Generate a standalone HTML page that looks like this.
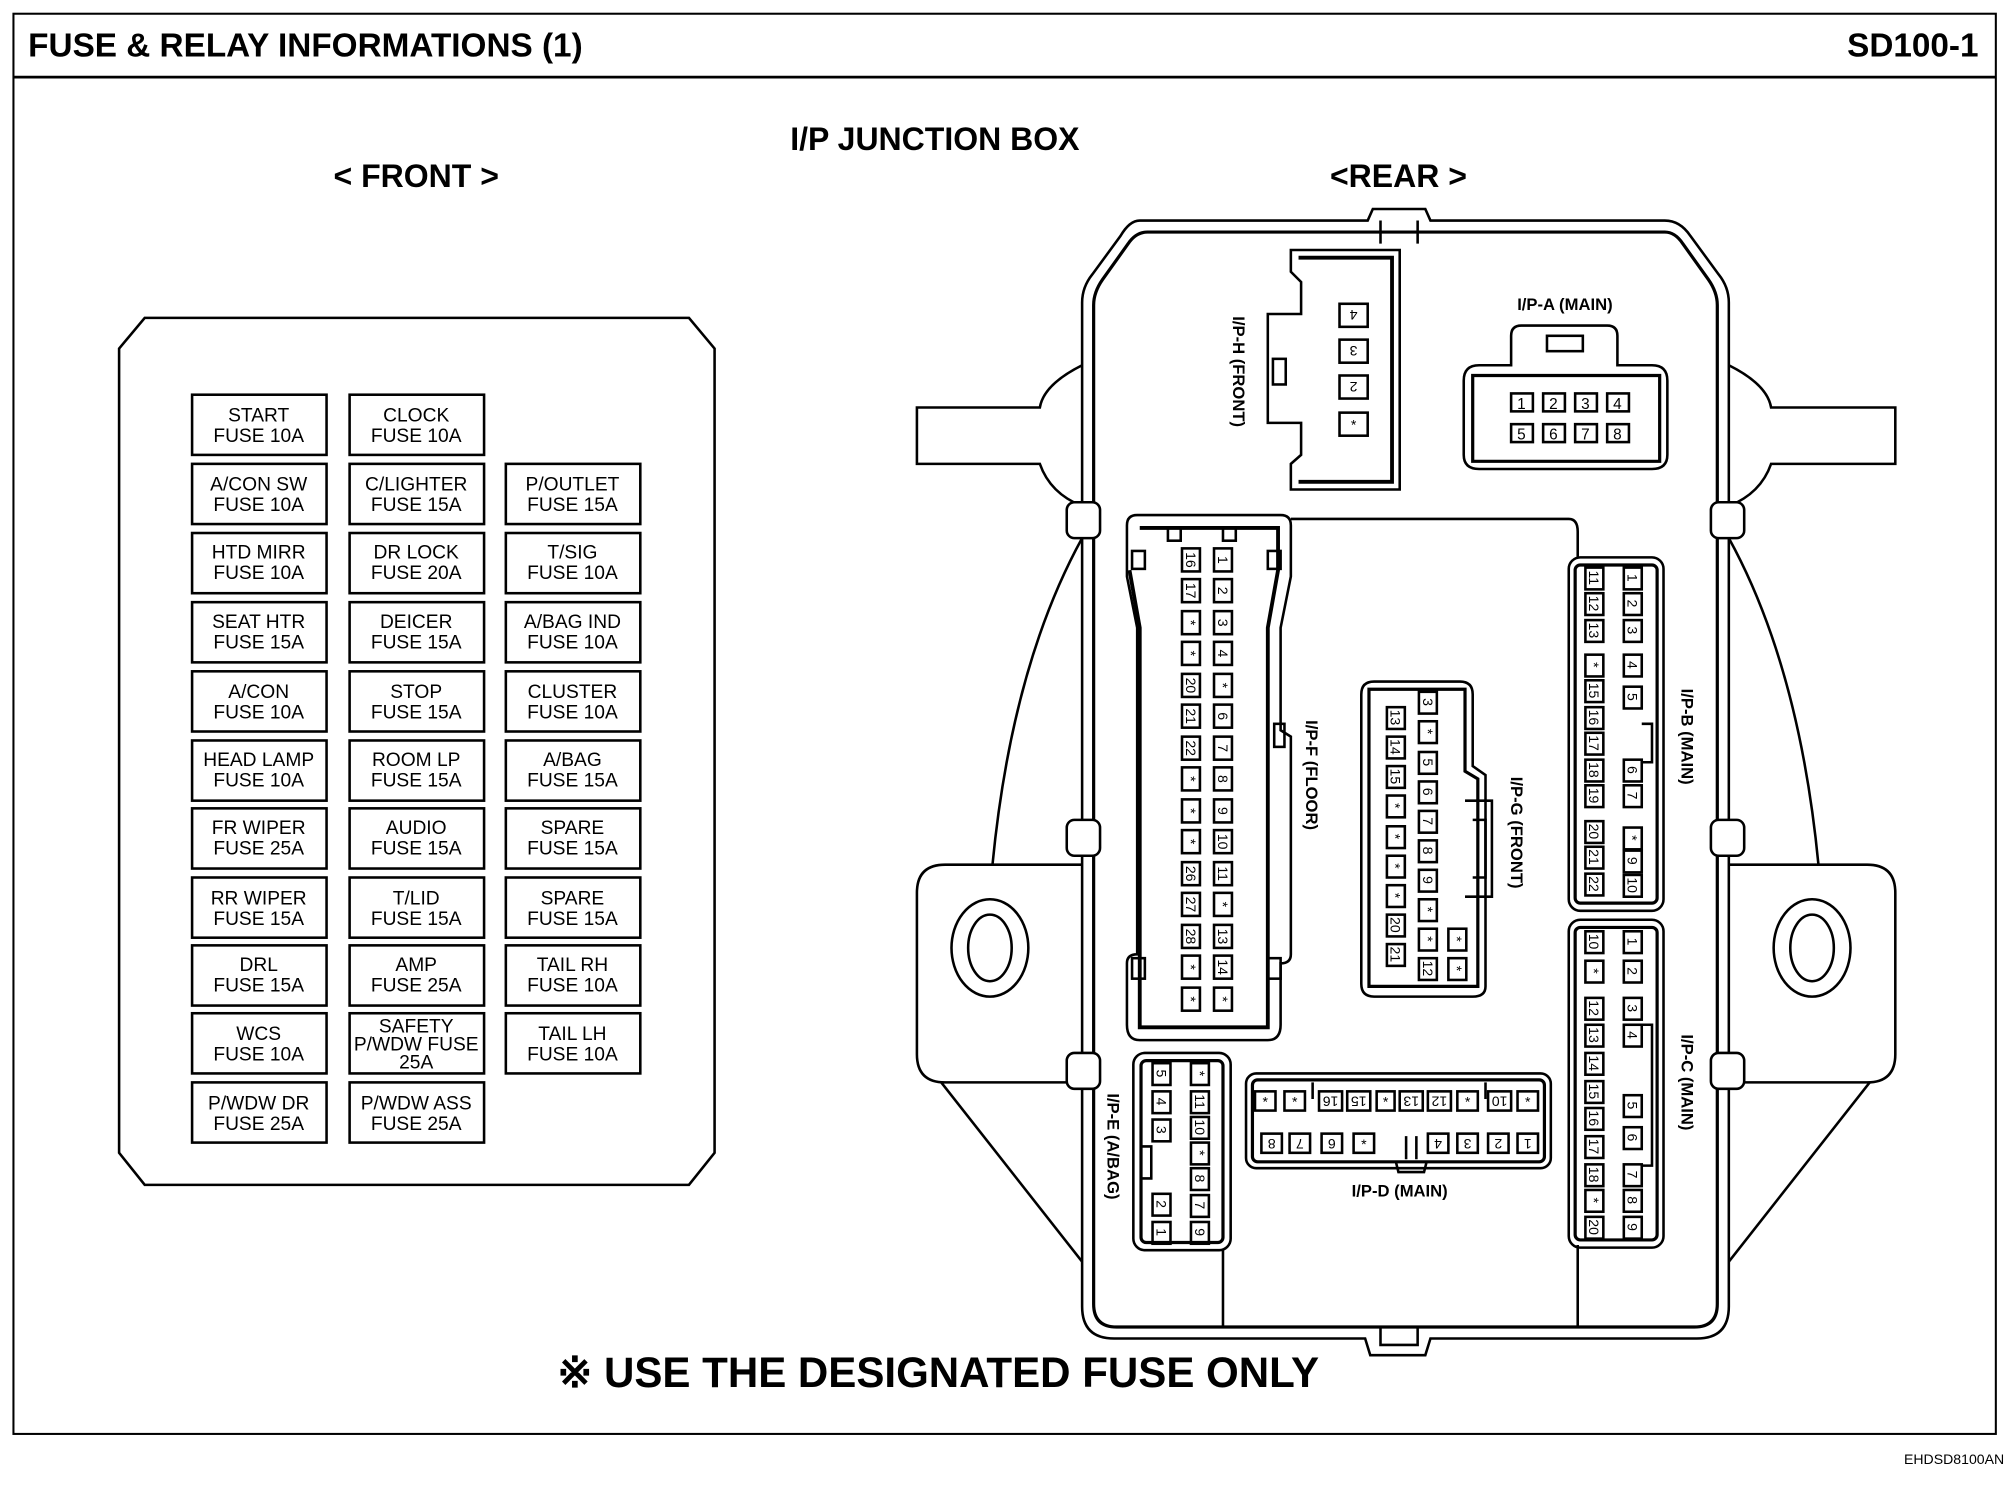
<!DOCTYPE html>
<html><head><meta charset="utf-8"><style>
html,body{margin:0;padding:0;background:#fff}
svg{display:block}
text{font-family:"Liberation Sans",sans-serif;fill:#000}
</style></head><body>
<svg width="2008" height="1504" viewBox="0 0 1568 1174" xmlns="http://www.w3.org/2000/svg">
<rect x="0" y="0" width="1568" height="1174" fill="#fff"/>
<rect x="10.5" y="10.5" width="1548" height="1109" fill="none" stroke="#000" stroke-width="1.6"/>
<line x1="10" y1="60" x2="1558" y2="60" stroke="#000" stroke-width="2.2"/>
<text x="22" y="44" font-size="26" font-weight="bold" textLength="433" lengthAdjust="spacingAndGlyphs">FUSE &amp; RELAY INFORMATIONS (1)</text>
<text x="1545" y="44" font-size="26" font-weight="bold" text-anchor="end">SD100-1</text>
<text x="730" y="117" font-size="25" font-weight="bold" text-anchor="middle">I/P JUNCTION BOX</text>
<text x="325" y="146" font-size="25" font-weight="bold" text-anchor="middle">&lt; FRONT &gt;</text>
<text x="1092" y="146" font-size="25" font-weight="bold" text-anchor="middle">&lt;REAR &gt;</text>
<text x="435" y="1083" font-size="33" font-weight="bold" textLength="595" lengthAdjust="spacingAndGlyphs">※ USE THE DESIGNATED FUSE ONLY</text>
<text x="1565" y="1143" font-size="11" text-anchor="end">EHDSD8100AN</text>

<!-- FRONT panel -->
<path d="M113 248 L538 248 L558 272 L558 900 L538 925 L113 925 L93 900 L93 272 Z" fill="none" stroke="#000" stroke-width="2"/>
<g fill="none" stroke="#000" stroke-width="2">
<rect x="150" y="308" width="105" height="47"/><rect x="273" y="308" width="105" height="47"/>
<rect x="150" y="362" width="105" height="47"/><rect x="273" y="362" width="105" height="47"/><rect x="395" y="362" width="105" height="47"/>
<rect x="150" y="416" width="105" height="47"/><rect x="273" y="416" width="105" height="47"/><rect x="395" y="416" width="105" height="47"/>
<rect x="150" y="470" width="105" height="47"/><rect x="273" y="470" width="105" height="47"/><rect x="395" y="470" width="105" height="47"/>
<rect x="150" y="524" width="105" height="47"/><rect x="273" y="524" width="105" height="47"/><rect x="395" y="524" width="105" height="47"/>
<rect x="150" y="578" width="105" height="47"/><rect x="273" y="578" width="105" height="47"/><rect x="395" y="578" width="105" height="47"/>
<rect x="150" y="631" width="105" height="47"/><rect x="273" y="631" width="105" height="47"/><rect x="395" y="631" width="105" height="47"/>
<rect x="150" y="685" width="105" height="47"/><rect x="273" y="685" width="105" height="47"/><rect x="395" y="685" width="105" height="47"/>
<rect x="150" y="738" width="105" height="47"/><rect x="273" y="738" width="105" height="47"/><rect x="395" y="738" width="105" height="47"/>
<rect x="150" y="791" width="105" height="47"/><rect x="273" y="791" width="105" height="47"/><rect x="395" y="791" width="105" height="47"/>
<rect x="150" y="845" width="105" height="47"/><rect x="273" y="845" width="105" height="47"/>
</g>
<g font-size="15" text-anchor="middle">
<text x="202" y="329">START</text><text x="202" y="345">FUSE 10A</text>
<text x="325" y="329">CLOCK</text><text x="325" y="345">FUSE 10A</text>
<text x="202" y="383">A/CON SW</text><text x="202" y="399">FUSE 10A</text>
<text x="325" y="383">C/LIGHTER</text><text x="325" y="399">FUSE 15A</text>
<text x="447" y="383">P/OUTLET</text><text x="447" y="399">FUSE 15A</text>
<text x="202" y="436">HTD MIRR</text><text x="202" y="452">FUSE 10A</text>
<text x="325" y="436">DR  LOCK</text><text x="325" y="452">FUSE 20A</text>
<text x="447" y="436">T/SIG</text><text x="447" y="452">FUSE 10A</text>
<text x="202" y="490">SEAT HTR</text><text x="202" y="506">FUSE 15A</text>
<text x="325" y="490">DEICER</text><text x="325" y="506">FUSE 15A</text>
<text x="447" y="490">A/BAG IND</text><text x="447" y="506">FUSE 10A</text>
<text x="202" y="545">A/CON</text><text x="202" y="561">FUSE 10A</text>
<text x="325" y="545">STOP</text><text x="325" y="561">FUSE 15A</text>
<text x="447" y="545">CLUSTER</text><text x="447" y="561">FUSE 10A</text>
<text x="202" y="598">HEAD LAMP</text><text x="202" y="614">FUSE 10A</text>
<text x="325" y="598">ROOM LP</text><text x="325" y="614">FUSE 15A</text>
<text x="447" y="598">A/BAG</text><text x="447" y="614">FUSE 15A</text>
<text x="202" y="651">FR WIPER</text><text x="202" y="667">FUSE 25A</text>
<text x="325" y="651">AUDIO</text><text x="325" y="667">FUSE 15A</text>
<text x="447" y="651">SPARE</text><text x="447" y="667">FUSE 15A</text>
<text x="202" y="706">RR WIPER</text><text x="202" y="722">FUSE 15A</text>
<text x="325" y="706">T/LID</text><text x="325" y="722">FUSE 15A</text>
<text x="447" y="706">SPARE</text><text x="447" y="722">FUSE 15A</text>
<text x="202" y="758">DRL</text><text x="202" y="774">FUSE 15A</text>
<text x="325" y="758">AMP</text><text x="325" y="774">FUSE 25A</text>
<text x="447" y="758">TAIL RH</text><text x="447" y="774">FUSE 10A</text>
<text x="202" y="812">WCS</text><text x="202" y="828">FUSE 10A</text>
<text x="325" y="806">SAFETY</text><text x="325" y="820">P/WDW FUSE</text><text x="325" y="834">25A</text>
<text x="447" y="812">TAIL LH</text><text x="447" y="828">FUSE 10A</text>
<text x="202" y="866">P/WDW DR</text><text x="202" y="882">FUSE 25A</text>
<text x="325" y="866">P/WDW ASS</text><text x="325" y="882">FUSE 25A</text>
</g>

<!-- REAR box -->
<g fill="none" stroke="#000" stroke-width="2">
<path d="M845 285 Q 815 300 812 318 L716 318 L716 362 L812 362 Q 820 385 845 395"/>
<path d="M1350 285 Q 1380 300 1383 318 L1480 318 L1480 362 L1383 362 Q 1375 385 1350 395"/>
<path d="M845 675 L738 675 Q716 675 716 697 L716 823 Q716 845 738 845 L845 845"/>
<path d="M1350 675 L1458 675 Q1480 675 1480 697 L1480 823 Q1480 845 1458 845 L1350 845"/>
<path d="M735 845 L845 985"/><path d="M1460 845 L1350 985"/>
<path d="M845 420 Q 790 520 775 675"/><path d="M1350 420 Q 1405 520 1420 675"/>
<ellipse cx="773" cy="740" rx="30" ry="38"/><ellipse cx="773" cy="740" rx="17" ry="26"/>
<ellipse cx="1415" cy="740" rx="30" ry="38"/><ellipse cx="1415" cy="740" rx="17" ry="26"/>
</g>
<path d="M890 172 L1068 172 L1072 163 L1113 163 L1117 172 L1300 172 Q1312 172 1320 184 L1342 214 Q1350 224 1350 236 L1350 1020 Q1350 1045 1325 1045 L1117 1045 L1113 1058 L1070 1058 L1066 1045 L870 1045 Q845 1045 845 1020 L845 236 Q845 224 853 214 L875 184 Q882 172 890 172 Z" fill="#fff" stroke="#000" stroke-width="2"/>
<path d="M896 181 L1300 181 Q1308 181 1314 190 L1334 218 Q1341 228 1341 238 L1341 1018 Q1341 1036 1323 1036 L872 1036 Q854 1036 854 1018 L854 238 Q854 228 861 218 L881 190 Q887 181 896 181 Z" fill="none" stroke="#000" stroke-width="2.5"/>
<g fill="none" stroke="#000" stroke-width="2">
<path d="M1078 172 L1078 190 M1107 172 L1107 190 M1078 1036 L1078 1050 L1107 1050 L1107 1036"/>
<rect x="833" y="392" width="26" height="28" rx="6" fill="#fff"/><rect x="1336" y="392" width="26" height="28" rx="6" fill="#fff"/>
<rect x="833" y="640" width="26" height="28" rx="6" fill="#fff"/><rect x="1336" y="640" width="26" height="28" rx="6" fill="#fff"/>
<rect x="833" y="822" width="26" height="28" rx="6" fill="#fff"/><rect x="1336" y="822" width="26" height="28" rx="6" fill="#fff"/>
<path d="M1008 405 L1225 405 Q1232 405 1232 415 L1232 435 M955 975 L955 1036 M1232 972 L1232 1036"/>
</g>
<!-- I/P-H -->
<g fill="none" stroke="#000" stroke-width="2">
<path d="M1008 195 L1093 195 L1093 382 L1008 382 L1008 362 L1016 355 L1016 330 L990 330 L990 245 L1016 245 L1016 220 L1008 212 Z"/>
<path d="M1014 201 L1087 201 L1087 376 L1014 376" stroke-width="3"/>
<rect x="994" y="280" width="10" height="20"/>
</g>
<g font-size="11" text-anchor="middle">
<rect x="1046" y="237" width="22" height="18" fill="none" stroke="#000" stroke-width="2"/><text x="1057" y="250" transform="rotate(180 1057 246)">4</text>
<rect x="1046" y="265" width="22" height="18" fill="none" stroke="#000" stroke-width="2"/><text x="1057" y="278" transform="rotate(180 1057 274)">3</text>
<rect x="1046" y="293" width="22" height="18" fill="none" stroke="#000" stroke-width="2"/><text x="1057" y="306" transform="rotate(180 1057 302)">2</text>
<rect x="1046" y="322" width="22" height="18" fill="none" stroke="#000" stroke-width="2"/><text x="1057" y="335">*</text>
</g>
<text x="0" y="0" font-size="13" font-weight="bold" text-anchor="middle" transform="translate(963 290) rotate(90)">I/P-H (FRONT)</text>
<!-- I/P-A -->
<text x="1222" y="242" font-size="13" font-weight="bold" text-anchor="middle">I/P-A (MAIN)</text>
<g fill="none" stroke="#000" stroke-width="2">
<path d="M1155 285 L1180 285 L1180 262 Q1180 254 1188 254 L1255 254 Q1263 254 1263 262 L1263 285 L1290 285 Q1302 285 1302 297 L1302 355 Q1302 366 1290 366 L1155 366 Q1143 366 1143 355 L1143 297 Q1143 285 1155 285 Z"/>
<path d="M1150 293 L1296 293 L1296 360 L1150 360 Z" stroke-width="2.5"/>
<rect x="1208" y="262" width="28" height="12"/>
</g>
<g font-size="12" text-anchor="middle" fill="none">
<g stroke="#000" stroke-width="2" fill="none">
<rect x="1180" y="307" width="17" height="14"/><rect x="1205" y="307" width="17" height="14"/><rect x="1230" y="307" width="17" height="14"/><rect x="1255" y="307" width="17" height="14"/>
<rect x="1180" y="331" width="17" height="14"/><rect x="1205" y="331" width="17" height="14"/><rect x="1230" y="331" width="17" height="14"/><rect x="1255" y="331" width="17" height="14"/>
</g>
<text x="1188" y="319">1</text><text x="1213" y="319">2</text><text x="1238" y="319">3</text><text x="1263" y="319">4</text>
<text x="1188" y="343">5</text><text x="1213" y="343">6</text><text x="1238" y="343">7</text><text x="1263" y="343">8</text>
</g>
<!-- I/P-F -->
<g fill="none" stroke="#000" stroke-width="2">
<path d="M888 402 L1000 402 Q1008 402 1008 410 L1008 450 L1000 490 L1000 570 L1008 575 L1008 745 Q1008 752 1000 752 L1000 800 Q1000 812 990 812 L890 812 Q880 812 880 800 L880 752 Q880 745 888 745 L888 490 L880 450 L880 410 Q880 402 888 402 Z"/>
<path d="M890 412 L998 412 L998 445 L990 490 L990 802 L890 802 L890 490 L882 445" stroke-width="3"/>
<rect x="912" y="412" width="10" height="10"/><rect x="955" y="412" width="10" height="10"/>
<rect x="884" y="430" width="10" height="14"/><rect x="990" y="430" width="10" height="14"/>
<rect x="884" y="748" width="10" height="16"/><rect x="990" y="748" width="10" height="16"/>
<rect x="995" y="565" width="8" height="18"/>
</g>
<g font-size="11" text-anchor="middle">
<g stroke="#000" stroke-width="2" fill="none">
<rect x="923" y="428" width="14" height="18"/><rect x="948" y="428" width="14" height="18"/>
<rect x="923" y="452" width="14" height="18"/><rect x="948" y="452" width="14" height="18"/>
<rect x="923" y="477" width="14" height="18"/><rect x="948" y="477" width="14" height="18"/>
<rect x="923" y="501" width="14" height="18"/><rect x="948" y="501" width="14" height="18"/>
<rect x="923" y="526" width="14" height="18"/><rect x="948" y="526" width="14" height="18"/>
<rect x="923" y="550" width="14" height="18"/><rect x="948" y="550" width="14" height="18"/>
<rect x="923" y="575" width="14" height="18"/><rect x="948" y="575" width="14" height="18"/>
<rect x="923" y="599" width="14" height="18"/><rect x="948" y="599" width="14" height="18"/>
<rect x="923" y="624" width="14" height="18"/><rect x="948" y="624" width="14" height="18"/>
<rect x="923" y="648" width="14" height="18"/><rect x="948" y="648" width="14" height="18"/>
<rect x="923" y="673" width="14" height="18"/><rect x="948" y="673" width="14" height="18"/>
<rect x="923" y="697" width="14" height="18"/><rect x="948" y="697" width="14" height="18"/>
<rect x="923" y="722" width="14" height="18"/><rect x="948" y="722" width="14" height="18"/>
<rect x="923" y="746" width="14" height="18"/><rect x="948" y="746" width="14" height="18"/>
<rect x="923" y="771" width="14" height="18"/><rect x="948" y="771" width="14" height="18"/>
</g>
<g transform="translate(930 437) rotate(90)"><text y="4">16</text></g><g transform="translate(955 437) rotate(90)"><text y="4">1</text></g>
<g transform="translate(930 461) rotate(90)"><text y="4">17</text></g><g transform="translate(955 461) rotate(90)"><text y="4">2</text></g>
<g transform="translate(930 486) rotate(90)"><text y="4">*</text></g><g transform="translate(955 486) rotate(90)"><text y="4">3</text></g>
<g transform="translate(930 510) rotate(90)"><text y="4">*</text></g><g transform="translate(955 510) rotate(90)"><text y="4">4</text></g>
<g transform="translate(930 535) rotate(90)"><text y="4">20</text></g><g transform="translate(955 535) rotate(90)"><text y="4">*</text></g>
<g transform="translate(930 559) rotate(90)"><text y="4">21</text></g><g transform="translate(955 559) rotate(90)"><text y="4">6</text></g>
<g transform="translate(930 584) rotate(90)"><text y="4">22</text></g><g transform="translate(955 584) rotate(90)"><text y="4">7</text></g>
<g transform="translate(930 608) rotate(90)"><text y="4">*</text></g><g transform="translate(955 608) rotate(90)"><text y="4">8</text></g>
<g transform="translate(930 633) rotate(90)"><text y="4">*</text></g><g transform="translate(955 633) rotate(90)"><text y="4">9</text></g>
<g transform="translate(930 657) rotate(90)"><text y="4">*</text></g><g transform="translate(955 657) rotate(90)"><text y="4">10</text></g>
<g transform="translate(930 682) rotate(90)"><text y="4">26</text></g><g transform="translate(955 682) rotate(90)"><text y="4">11</text></g>
<g transform="translate(930 706) rotate(90)"><text y="4">27</text></g><g transform="translate(955 706) rotate(90)"><text y="4">*</text></g>
<g transform="translate(930 731) rotate(90)"><text y="4">28</text></g><g transform="translate(955 731) rotate(90)"><text y="4">13</text></g>
<g transform="translate(930 755) rotate(90)"><text y="4">*</text></g><g transform="translate(955 755) rotate(90)"><text y="4">14</text></g>
<g transform="translate(930 780) rotate(90)"><text y="4">*</text></g><g transform="translate(955 780) rotate(90)"><text y="4">*</text></g>
</g>
<text x="0" y="0" font-size="13" font-weight="bold" text-anchor="middle" transform="translate(1020 605) rotate(90)">I/P-F (FLOOR)</text>
<!-- I/P-G -->
<g fill="none" stroke="#000" stroke-width="2">
<path d="M1073 532 L1140 532 Q1150 532 1150 542 L1150 598 L1160 605 L1160 770 Q1160 778 1150 778 L1073 778 Q1063 778 1063 768 L1063 542 Q1063 532 1073 532 Z"/>
<path d="M1069 538 L1144 538 L1144 602 L1154 608 L1154 770 L1069 770 Z" stroke-width="2.5"/>
<path d="M1144 625 L1165 625 L1165 700 L1144 700 M1150 640 L1160 640 L1160 685 L1150 685"/>
</g>
<g font-size="11" text-anchor="middle">
<g stroke="#000" stroke-width="2" fill="none">
<rect x="1108" y="540" width="14" height="17"/><rect x="1108" y="563" width="14" height="17"/><rect x="1108" y="587" width="14" height="17"/><rect x="1108" y="610" width="14" height="17"/><rect x="1108" y="633" width="14" height="17"/><rect x="1108" y="656" width="14" height="17"/><rect x="1108" y="679" width="14" height="17"/><rect x="1108" y="702" width="14" height="17"/><rect x="1108" y="725" width="14" height="17"/><rect x="1108" y="748" width="14" height="17"/>
<rect x="1083" y="552" width="14" height="17"/><rect x="1083" y="575" width="14" height="17"/><rect x="1083" y="598" width="14" height="17"/><rect x="1083" y="621" width="14" height="17"/><rect x="1083" y="645" width="14" height="17"/><rect x="1083" y="668" width="14" height="17"/><rect x="1083" y="691" width="14" height="17"/><rect x="1083" y="714" width="14" height="17"/><rect x="1083" y="737" width="14" height="17"/>
<rect x="1131" y="725" width="14" height="17"/><rect x="1131" y="748" width="14" height="17"/>
</g>
<g transform="translate(1115 548) rotate(90)"><text y="4">3</text></g><g transform="translate(1115 571) rotate(90)"><text y="4">*</text></g><g transform="translate(1115 595) rotate(90)"><text y="4">5</text></g><g transform="translate(1115 618) rotate(90)"><text y="4">6</text></g><g transform="translate(1115 641) rotate(90)"><text y="4">7</text></g><g transform="translate(1115 664) rotate(90)"><text y="4">8</text></g><g transform="translate(1115 687) rotate(90)"><text y="4">9</text></g><g transform="translate(1115 710) rotate(90)"><text y="4">*</text></g><g transform="translate(1115 733) rotate(90)"><text y="4">*</text></g><g transform="translate(1115 756) rotate(90)"><text y="4">12</text></g>
<g transform="translate(1090 560) rotate(90)"><text y="4">13</text></g><g transform="translate(1090 583) rotate(90)"><text y="4">14</text></g><g transform="translate(1090 606) rotate(90)"><text y="4">15</text></g><g transform="translate(1090 629) rotate(90)"><text y="4">*</text></g><g transform="translate(1090 653) rotate(90)"><text y="4">*</text></g><g transform="translate(1090 676) rotate(90)"><text y="4">*</text></g><g transform="translate(1090 699) rotate(90)"><text y="4">*</text></g><g transform="translate(1090 722) rotate(90)"><text y="4">20</text></g><g transform="translate(1090 745) rotate(90)"><text y="4">21</text></g>
<g transform="translate(1138 733) rotate(90)"><text y="4">*</text></g><g transform="translate(1138 756) rotate(90)"><text y="4">*</text></g>
</g>
<text x="0" y="0" font-size="13" font-weight="bold" text-anchor="middle" transform="translate(1180 650) rotate(90)">I/P-G (FRONT)</text>
<!-- I/P-B -->
<g fill="none" stroke="#000" stroke-width="2">
<rect x="1225" y="435" width="74" height="276" rx="9"/>
<rect x="1230" y="441" width="64" height="264" rx="4" stroke-width="2.5"/>
<path d="M1282 565 L1290 565 L1290 595 L1282 595"/>
</g>
<g font-size="11" text-anchor="middle">
<g stroke="#000" stroke-width="2" fill="none">
<rect x="1238" y="443" width="14" height="17"/><rect x="1238" y="463" width="14" height="17"/><rect x="1238" y="484" width="14" height="17"/><rect x="1238" y="511" width="14" height="17"/><rect x="1238" y="531" width="14" height="17"/><rect x="1238" y="552" width="14" height="17"/><rect x="1238" y="572" width="14" height="17"/><rect x="1238" y="593" width="14" height="17"/><rect x="1238" y="613" width="14" height="17"/><rect x="1238" y="641" width="14" height="17"/><rect x="1238" y="661" width="14" height="17"/><rect x="1238" y="682" width="14" height="17"/>
<rect x="1268" y="443" width="14" height="17"/><rect x="1268" y="463" width="14" height="17"/><rect x="1268" y="484" width="14" height="17"/><rect x="1268" y="511" width="14" height="17"/><rect x="1268" y="536" width="14" height="17"/><rect x="1268" y="593" width="14" height="17"/><rect x="1268" y="613" width="14" height="17"/><rect x="1268" y="646" width="14" height="17"/><rect x="1268" y="664" width="14" height="17"/><rect x="1268" y="683" width="14" height="17"/>
</g>
<g transform="translate(1245 451) rotate(90)"><text y="4">11</text></g><g transform="translate(1245 471) rotate(90)"><text y="4">12</text></g><g transform="translate(1245 492) rotate(90)"><text y="4">13</text></g><g transform="translate(1245 519) rotate(90)"><text y="4">*</text></g><g transform="translate(1245 539) rotate(90)"><text y="4">15</text></g><g transform="translate(1245 560) rotate(90)"><text y="4">16</text></g><g transform="translate(1245 580) rotate(90)"><text y="4">17</text></g><g transform="translate(1245 601) rotate(90)"><text y="4">18</text></g><g transform="translate(1245 621) rotate(90)"><text y="4">19</text></g><g transform="translate(1245 649) rotate(90)"><text y="4">20</text></g><g transform="translate(1245 669) rotate(90)"><text y="4">21</text></g><g transform="translate(1245 690) rotate(90)"><text y="4">22</text></g>
<g transform="translate(1275 451) rotate(90)"><text y="4">1</text></g><g transform="translate(1275 471) rotate(90)"><text y="4">2</text></g><g transform="translate(1275 492) rotate(90)"><text y="4">3</text></g><g transform="translate(1275 519) rotate(90)"><text y="4">4</text></g><g transform="translate(1275 544) rotate(90)"><text y="4">5</text></g><g transform="translate(1275 601) rotate(90)"><text y="4">6</text></g><g transform="translate(1275 621) rotate(90)"><text y="4">7</text></g><g transform="translate(1275 654) rotate(90)"><text y="4">*</text></g><g transform="translate(1275 672) rotate(90)"><text y="4">9</text></g><g transform="translate(1275 691) rotate(90)"><text y="4">10</text></g>
</g>
<text x="0" y="0" font-size="13" font-weight="bold" text-anchor="middle" transform="translate(1313 575) rotate(90)">I/P-B (MAIN)</text>
<!-- I/P-C -->
<g fill="none" stroke="#000" stroke-width="2">
<rect x="1225" y="718" width="74" height="256" rx="9"/>
<rect x="1230" y="724" width="64" height="244" rx="4" stroke-width="2.5"/>
<path d="M1282 800 L1290 800 L1290 910 L1282 910"/>
</g>
<g font-size="11" text-anchor="middle">
<g stroke="#000" stroke-width="2" fill="none">
<rect x="1238" y="727" width="14" height="17"/><rect x="1238" y="750" width="14" height="17"/><rect x="1238" y="779" width="14" height="17"/><rect x="1238" y="800" width="14" height="17"/><rect x="1238" y="822" width="14" height="17"/><rect x="1238" y="844" width="14" height="17"/><rect x="1238" y="865" width="14" height="17"/><rect x="1238" y="887" width="14" height="17"/><rect x="1238" y="909" width="14" height="17"/><rect x="1238" y="929" width="14" height="17"/><rect x="1238" y="950" width="14" height="17"/>
<rect x="1268" y="727" width="14" height="17"/><rect x="1268" y="750" width="14" height="17"/><rect x="1268" y="779" width="14" height="17"/><rect x="1268" y="800" width="14" height="17"/><rect x="1268" y="855" width="14" height="17"/><rect x="1268" y="880" width="14" height="17"/><rect x="1268" y="909" width="14" height="17"/><rect x="1268" y="929" width="14" height="17"/><rect x="1268" y="950" width="14" height="17"/>
</g>
<g transform="translate(1245 735) rotate(90)"><text y="4">10</text></g><g transform="translate(1245 758) rotate(90)"><text y="4">*</text></g><g transform="translate(1245 787) rotate(90)"><text y="4">12</text></g><g transform="translate(1245 808) rotate(90)"><text y="4">13</text></g><g transform="translate(1245 830) rotate(90)"><text y="4">14</text></g><g transform="translate(1245 852) rotate(90)"><text y="4">15</text></g><g transform="translate(1245 873) rotate(90)"><text y="4">16</text></g><g transform="translate(1245 895) rotate(90)"><text y="4">17</text></g><g transform="translate(1245 917) rotate(90)"><text y="4">18</text></g><g transform="translate(1245 937) rotate(90)"><text y="4">*</text></g><g transform="translate(1245 958) rotate(90)"><text y="4">20</text></g>
<g transform="translate(1275 735) rotate(90)"><text y="4">1</text></g><g transform="translate(1275 758) rotate(90)"><text y="4">2</text></g><g transform="translate(1275 787) rotate(90)"><text y="4">3</text></g><g transform="translate(1275 808) rotate(90)"><text y="4">4</text></g><g transform="translate(1275 863) rotate(90)"><text y="4">5</text></g><g transform="translate(1275 888) rotate(90)"><text y="4">6</text></g><g transform="translate(1275 917) rotate(90)"><text y="4">7</text></g><g transform="translate(1275 937) rotate(90)"><text y="4">8</text></g><g transform="translate(1275 958) rotate(90)"><text y="4">9</text></g>
</g>
<text x="0" y="0" font-size="13" font-weight="bold" text-anchor="middle" transform="translate(1313 845) rotate(90)">I/P-C (MAIN)</text>
<!-- I/P-E -->
<g fill="none" stroke="#000" stroke-width="2">
<rect x="885" y="822" width="76" height="154" rx="9"/>
<rect x="891" y="828" width="64" height="142" rx="4" stroke-width="2.5"/>
<path d="M891 895 L899 895 L899 920 L891 920"/>
</g>
<g font-size="11" text-anchor="middle">
<g stroke="#000" stroke-width="2" fill="none">
<rect x="900" y="830" width="14" height="17"/><rect x="900" y="852" width="14" height="17"/><rect x="900" y="874" width="14" height="17"/><rect x="900" y="932" width="14" height="17"/><rect x="900" y="954" width="14" height="17"/>
<rect x="930" y="830" width="14" height="17"/><rect x="930" y="852" width="14" height="17"/><rect x="930" y="872" width="14" height="17"/><rect x="930" y="892" width="14" height="17"/><rect x="930" y="912" width="14" height="17"/><rect x="930" y="933" width="14" height="17"/><rect x="930" y="954" width="14" height="17"/>
</g>
<g transform="translate(907 838) rotate(90)"><text y="4">5</text></g><g transform="translate(907 860) rotate(90)"><text y="4">4</text></g><g transform="translate(907 882) rotate(90)"><text y="4">3</text></g><g transform="translate(907 940) rotate(90)"><text y="4">2</text></g><g transform="translate(907 962) rotate(90)"><text y="4">1</text></g>
<g transform="translate(937 838) rotate(90)"><text y="4">*</text></g><g transform="translate(937 860) rotate(90)"><text y="4">11</text></g><g transform="translate(937 880) rotate(90)"><text y="4">10</text></g><g transform="translate(937 900) rotate(90)"><text y="4">*</text></g><g transform="translate(937 920) rotate(90)"><text y="4">8</text></g><g transform="translate(937 941) rotate(90)"><text y="4">7</text></g><g transform="translate(937 962) rotate(90)"><text y="4">9</text></g>
</g>
<text x="0" y="0" font-size="13" font-weight="bold" text-anchor="middle" transform="translate(865 895) rotate(90)">I/P-E (A/BAG)</text>
<!-- I/P-D -->
<g fill="none" stroke="#000" stroke-width="2">
<rect x="973" y="838" width="238" height="74" rx="8"/>
<rect x="978" y="843" width="228" height="64" rx="4" stroke-width="2.5"/>
<path d="M1090 907 L1092 915 L1112 915 L1114 907 M1098 887 L1098 905 M1106 887 L1106 905 M1025 845 L1025 858 M1160 845 L1160 858"/>
</g>
<g font-size="11" text-anchor="middle">
<g stroke="#000" stroke-width="2" fill="none">
<rect x="980" y="852" width="16" height="15"/><rect x="1003" y="852" width="16" height="15"/><rect x="1030" y="852" width="18" height="15"/><rect x="1052" y="852" width="18" height="15"/><rect x="1075" y="852" width="14" height="15"/><rect x="1093" y="852" width="18" height="15"/><rect x="1115" y="852" width="18" height="15"/><rect x="1138" y="852" width="16" height="15"/><rect x="1162" y="852" width="18" height="15"/><rect x="1185" y="852" width="16" height="15"/>
<rect x="985" y="885" width="16" height="15"/><rect x="1007" y="885" width="16" height="15"/><rect x="1032" y="885" width="16" height="15"/><rect x="1057" y="885" width="16" height="15"/><rect x="1115" y="885" width="16" height="15"/><rect x="1138" y="885" width="16" height="15"/><rect x="1162" y="885" width="16" height="15"/><rect x="1185" y="885" width="16" height="15"/>
</g>
<text x="988" y="864">*</text><text x="1011" y="864">*</text><text x="1039" y="864" transform="rotate(180 1039 860)">16</text><text x="1061" y="864" transform="rotate(180 1061 860)">15</text><text x="1082" y="864">*</text><text x="1102" y="864" transform="rotate(180 1102 860)">13</text><text x="1124" y="864" transform="rotate(180 1124 860)">12</text><text x="1146" y="864">*</text><text x="1171" y="864" transform="rotate(180 1171 860)">10</text><text x="1193" y="864">*</text>
<text x="993" y="897" transform="rotate(180 993 893)">8</text><text x="1015" y="897" transform="rotate(180 1015 893)">7</text><text x="1040" y="897" transform="rotate(180 1040 893)">6</text><text x="1065" y="897">*</text><text x="1123" y="897" transform="rotate(180 1123 893)">4</text><text x="1146" y="897" transform="rotate(180 1146 893)">3</text><text x="1170" y="897" transform="rotate(180 1170 893)">2</text><text x="1193" y="897" transform="rotate(180 1193 893)">1</text>
</g>
<text x="1093" y="934" font-size="13" font-weight="bold" text-anchor="middle">I/P-D (MAIN)</text>
</svg>
</body></html>
